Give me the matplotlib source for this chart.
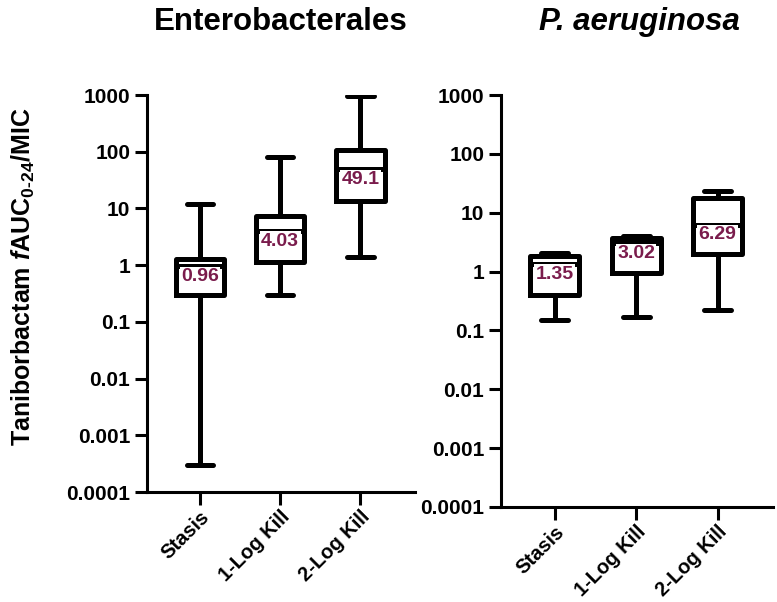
import numpy as np
import matplotlib
matplotlib.use("Agg")
import matplotlib.pyplot as plt

plt.rcParams['font.family'] = ['Liberation Sans', 'DejaVu Sans']
plt.rcParams['font.weight'] = 'bold'
plt.rcParams['mathtext.fontset'] = 'custom'
plt.rcParams['mathtext.rm'] = 'Liberation Sans:bold'
plt.rcParams['mathtext.it'] = 'Liberation Sans:italic:bold'
plt.rcParams['mathtext.bf'] = 'Liberation Sans:bold'

# data
groups = ["Stasis", "1-Log Kill", "2-Log Kill"]
yticks = [1e-4, 1e-3, 1e-2, 1e-1, 1, 10, 100, 1000]
ytick_labels = ["0.0001", "0.001", "0.01", "0.1", "1", "10", "100", "1000"]

# Enterobacterales
ent_lo = [0.0003, 0.3, 1.4]
ent_q1 = [0.3, 1.12, 13.5]
ent_med = [0.96, 4.03, 49.1]
ent_q3 = [1.3, 7.5, 108]
ent_hi = [12, 82, 950]
ent_lab = ["0.96", "4.03", "49.1"]

# P. aeruginosa
pae_lo = [0.15, 0.17, 0.22]
pae_q1 = [0.4, 0.95, 2.0]
pae_med = [1.35, 3.02, 6.29]
pae_q3 = [1.85, 3.7, 18]
pae_hi = [2.1, 4.0, 23]
pae_lab = ["1.35", "3.02", "6.29"]

label_color = "#7a1c4c"
lw = 3.6

fig = plt.figure(figsize=(7.77, 6.02), dpi=100)
ax1 = fig.add_axes([147/777, 1-492/602, 268/777, 397/602])
ax2 = fig.add_axes([501/777, 1-507/602, 272/777, 412/602])


def draw(ax, lo, q1, med, q3, hi, labs):
    stats = []
    for i in range(len(groups)):
        stats.append(dict(whislo=lo[i], q1=q1[i], med=med[i], q3=q3[i],
                          whishi=hi[i], label=groups[i]))
    props = dict(color="black", linewidth=lw)
    ax.bxp(stats, positions=[1, 2, 3], widths=0.6, capwidths=0.33,
           showfliers=False,
           boxprops=dict(color="black", linewidth=lw),
           medianprops=props, whiskerprops=props,
           capprops=dict(color="black", linewidth=lw, solid_capstyle="round"))
    for i in range(len(groups)):
        ax.text(i + 1, med[i] * 0.93, labs[i], ha="center", va="top",
                color=label_color, fontsize=14, fontweight="bold",
                bbox=dict(facecolor="white", edgecolor="none", pad=1.0),
                zorder=5)
    ax.set_yscale("log")
    ax.set_ylim(1e-4, 1000)
    ax.set_xlim(0.34, 3.68)
    ax.set_yticks(yticks)
    ax.set_yticklabels(ytick_labels)
    ax.minorticks_off()
    ax.set_xticks([1, 2, 3])
    ax.set_xticklabels(groups, rotation=45, ha="right", rotation_mode="anchor")
    ax.spines["top"].set_visible(False)
    ax.spines["right"].set_visible(False)
    for s in ["left", "bottom"]:
        ax.spines[s].set_linewidth(2.2)
    ax.tick_params(axis="both", width=2.2, length=9, labelsize=15, pad=3)
    ax.tick_params(axis="x", labelsize=14.5, pad=2)
    for t in ax.get_xticklabels() + ax.get_yticklabels():
        t.set_fontweight("bold")


draw(ax1, ent_lo, ent_q1, ent_med, ent_q3, ent_hi, ent_lab)
draw(ax2, pae_lo, pae_q1, pae_med, pae_q3, pae_hi, pae_lab)

fig.text(281/777, 1-22/602, "Enterobacterales", ha="center", va="center",
         fontsize=22.5, fontweight="bold")
fig.text(639/777, 1-22/602, "P. aeruginosa", ha="center", va="center",
         fontsize=22.5, fontweight="bold", style="italic")

fig.text(0.03, 1-277/602, r"Taniborbactam $\mathit{f}$AUC$_{\text{0-24}}$/MIC",
         rotation=90, ha="center", va="center", fontsize=18, fontweight="bold")

fig.savefig("out.png", dpi=100)
